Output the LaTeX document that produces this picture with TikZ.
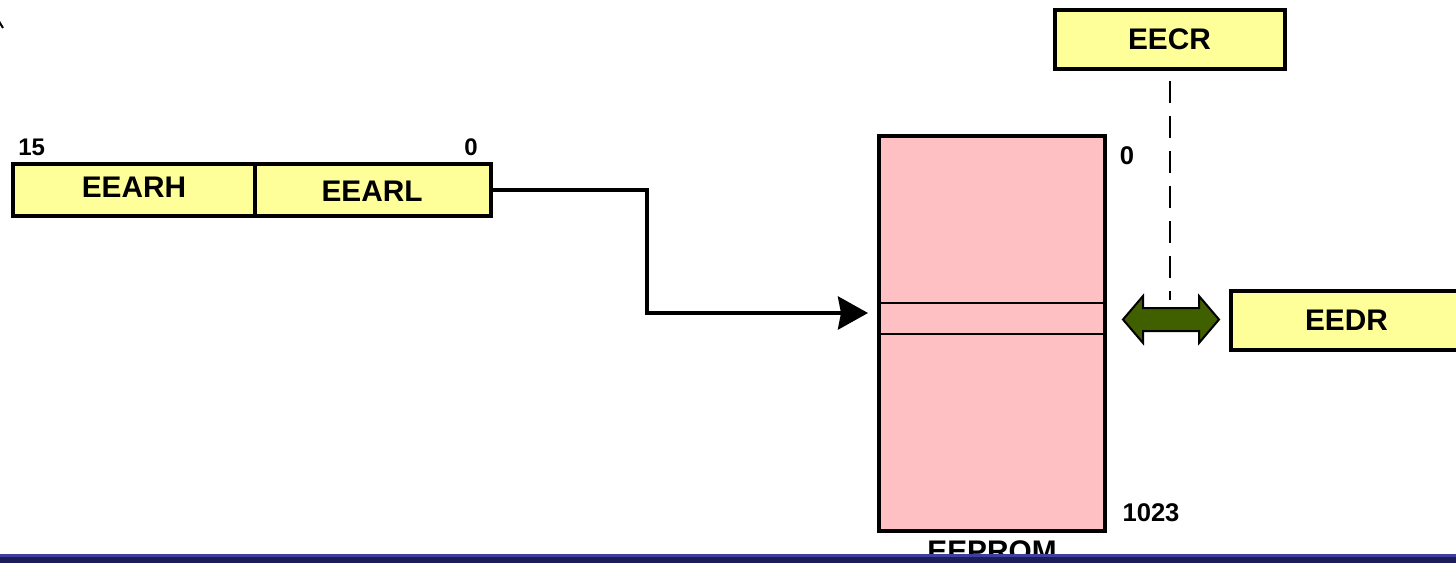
\documentclass[tikz,border=0pt]{standalone}
\usepackage{fontspec}
\setmainfont{Liberation Sans}
\usetikzlibrary{arrows.meta,calc}

\definecolor{regfill}{RGB}{255,255,153}
\definecolor{memfill}{RGB}{255,192,196}
\definecolor{busgreen}{RGB}{64,96,0}
\definecolor{barnavy}{RGB}{28,28,88}
\definecolor{barlight}{RGB}{62,62,158}

\begin{document}
\begin{tikzpicture}[x=0.5pt,y=-0.5pt,
  reg/.style={draw=black, line width=2pt, fill=regfill, rectangle, inner sep=0pt, outer sep=0pt},
  mem/.style={draw=black, line width=2pt, fill=memfill, rectangle, inner sep=0pt, outer sep=0pt},
  regtext/.style={font=\bfseries\fontsize{14.9pt}{16pt}\selectfont, inner sep=0pt},
  bitl/.style={font=\bfseries\fontsize{12pt}{14pt}\selectfont, inner sep=0pt},
  bitr/.style={font=\bfseries\fontsize{12.8pt}{14pt}\selectfont, inner sep=0pt},
  conn/.style={line width=2pt, -{Stealth[length=15pt,width=16.5pt,inset=1.5pt]}},
  bus/.style={draw=black, line width=1pt, fill=busgreen, line join=miter},
  ctrl/.style={line width=1pt, dash pattern=on 11pt off 6.5pt, dash phase=11.5pt}]

\useasboundingbox (0,0) rectangle (1456,563);
\clip (0,0) rectangle (1456,563);

% stray pointer end in the corner
\draw[line width=1pt] (-3,18) -- (3,28);

% 16-bit address register
\node[reg, minimum width=121pt, minimum height=26pt] (earh) at (134,189.5) {};
\node[reg, minimum width=118pt, minimum height=26pt] (earl) at (373,189.5) {};
\node[regtext] (earhT) at (134,187) {EEARH};
\node[regtext] (earlT) at (372,191) {EEARL};
\node[bitl] (b15) at (31.7,147) {15};
\node[bitl] (b0) at (471,147) {0};

% control and data registers
\node[reg, minimum width=115pt, minimum height=29.75pt] (eecr) at (1170,39.25) {};
\node[regtext] (eecrT) at (1169.5,39) {EECR};
\node[reg, minimum width=124.5pt, minimum height=29.5pt] (eedr) at (1355.5,320.5) {};
\node[regtext] (eedrT) at (1346.5,320) {EEDR};

% EEPROM array with the addressed cell
\node[mem, minimum width=113pt, minimum height=197.5pt] (eeprom) at (992,333.5) {};
\coordinate (slotTop) at (0,303);
\coordinate (slotBot) at (0,334);
\draw[line width=1pt] (eeprom.west |- slotTop) -- (eeprom.east |- slotTop);
\draw[line width=1pt] (eeprom.west |- slotBot) -- (eeprom.east |- slotBot);
\node[bitr] (a0) at (1127,156) {0};
\node[bitr] (a1023) at (1151,512.5) {1023};
\node[regtext] (romT) at (992,551) {EEPROM};

% address path into the array
\coordinate (bend) at (647,313);
\draw[conn, shorten >=5.5pt] (earl.east) -| (bend) -- (bend -| eeprom.west);

% control link
\coordinate (dashEnd) at (1170,300);
\draw[ctrl] (eecr.south) -- (eecr.south |- dashEnd);

% bidirectional data bus
\coordinate (busL) at ($(eeprom.east |- eedr.center)+(18,-1)$);
\coordinate (busR) at ($(eedr.west)+(-12,-1)$);
\draw[bus] (busL) -- ($(busL)+(20,-23.5)$) -- ($(busL)+(20,-11.5)$)
  -- ($(busR)+(-20,-11.5)$) -- ($(busR)+(-20,-23.5)$) -- (busR)
  -- ($(busR)+(-20,23.5)$) -- ($(busR)+(-20,11.5)$)
  -- ($(busL)+(20,11.5)$) -- ($(busL)+(20,23.5)$) -- cycle;

% footer bar
\fill[barnavy] (0,554) rectangle (1456,563);
\fill[barlight] (0,554) rectangle (1456,556.5);
\end{tikzpicture}
\end{document}
